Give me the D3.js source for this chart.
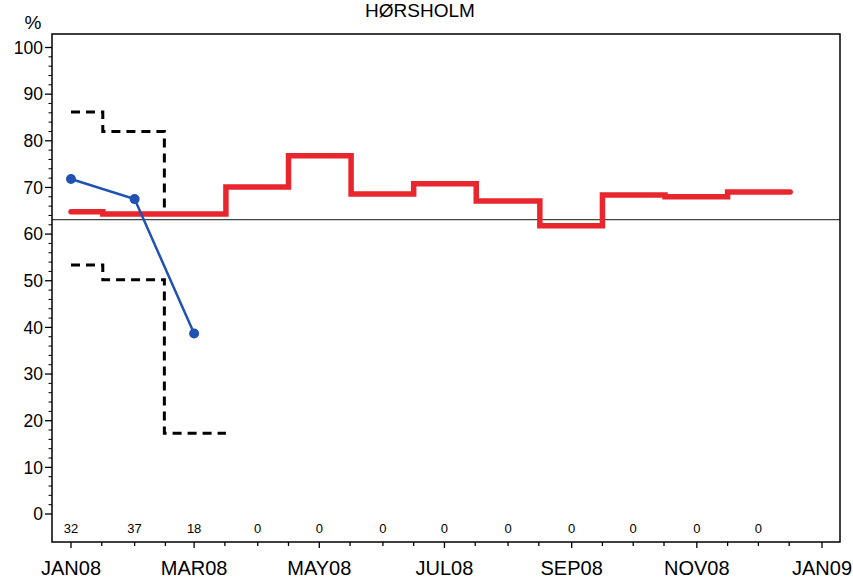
<!DOCTYPE html>
<html>
<head>
<meta charset="utf-8">
<script src="https://cdn.jsdelivr.net/npm/d3@7"></script>
<style>
  body { margin: 0; background: #fff; }
  text { font-family: "Liberation Sans", Arial, sans-serif; fill: #000; }
</style>
</head>
<body>
<svg id="chart" width="853" height="578"></svg>
<script>
// monthly data, 2008
const months = ["2008-01", "2008-02", "2008-03", "2008-04", "2008-05", "2008-06",
    "2008-07", "2008-08", "2008-09", "2008-10", "2008-11", "2008-12"]
const counts = [32, 37, 18, 0, 0, 0, 0, 0, 0, 0, 0, 0]
const expected = [64.8, 64.3, 64.3, 70.1, 76.8, 68.6, 70.8, 67.1, 61.8, 68.4, 68.0, 69.0]
const observed = [71.8, 67.5, 38.7]
const upper = [86.2, 82.0, 64.4]
const lower = [53.4, 50.2, 17.3]
const refLevel = 63.1
const yTicks = [0, 10, 20, 30, 40, 50, 60, 70, 80, 90, 100]
const title = "HØRSHOLM"

const parse = d3.timeParse("%Y-%m")
const dates = months.map(parse)

const svg = d3.select("#chart")

const frame = {left: 52, top: 34, right: 840, bottom: 542}

var x = d3.scaleTime()
    .domain([new Date(2008, 0, 1), new Date(2009, 0, 1)])
    .range([71, 822])
var y = d3.scaleLinear().domain([0, 100]).range([514, 47.5])

// step path: each month holds from the midpoint before to the midpoint after
function stepPoints(values) {
    let pts = []
    for (let i = 0; i < values.length; i++) {
        let d = dates[i]
        let next = d3.timeMonth.offset(d, 1)
        let start = i === 0 ? d : new Date((dates[i - 1].getTime() + d.getTime()) / 2)
        let end = new Date((d.getTime() + next.getTime()) / 2)
        pts.push([x(start), y(values[i])])
        pts.push([x(end), y(values[i])])
    }
    return pts
}

const line = d3.line()

// x axis ticks (1st and 16th of every month)
let allTicks = []
d3.timeMonth.range(new Date(2008, 0, 1), new Date(2009, 0, 2)).forEach(function (m) {
    allTicks.push({d: m, major: m.getMonth() % 2 === 0})
    if (m < new Date(2009, 0, 1)) allTicks.push({d: new Date(m.getFullYear(), m.getMonth(), 16), major: false})
})

svg.append("g").selectAll("line")
    .data(allTicks)
    .enter()
    .append("line")
    .attr("x1", d => x(d.d)).attr("x2", d => x(d.d))
    .attr("y1", frame.bottom).attr("y2", d => frame.bottom + (d.major ? 6 : 4))
    .attr("stroke", "#000").attr("stroke-width", 1.3)

const fmt = d3.timeFormat("%b%y")
svg.append("g").selectAll("text")
    .data(allTicks.filter(d => d.major))
    .enter()
    .append("text")
    .attr("x", d => x(d.d))
    .attr("y", 575)
    .attr("text-anchor", "middle")
    .style("font-size", "20px")
    .text(d => fmt(d.d).toUpperCase())

// y axis
let minor = d3.range(0, 101, 2).filter(v => v % 10 !== 0)
svg.append("g").selectAll("line")
    .data(minor)
    .enter()
    .append("line")
    .attr("x1", frame.left - 3.5).attr("x2", frame.left)
    .attr("y1", d => y(d)).attr("y2", d => y(d))
    .attr("stroke", "#000").attr("stroke-width", 1)

svg.append("g").selectAll("line")
    .data(yTicks)
    .enter()
    .append("line")
    .attr("x1", frame.left - 7).attr("x2", frame.left)
    .attr("y1", d => y(d)).attr("y2", d => y(d))
    .attr("stroke", "#000").attr("stroke-width", 1.3)

svg.append("g").selectAll("text")
    .data(yTicks)
    .enter()
    .append("text")
    .attr("x", 43)
    .attr("y", d => y(d))
    .attr("dy", "0.36em")
    .attr("text-anchor", "end")
    .style("font-size", "17.5px")
    .text(d => d)

svg.append("text").attr("x", 33).attr("y", 29).attr("text-anchor", "middle")
    .style("font-size", "19px").text("%")

svg.append("text").attr("x", 420).attr("y", 17).attr("text-anchor", "middle")
    .style("font-size", "19px").text(title)

// reference level
svg.append("line")
    .attr("x1", frame.left).attr("x2", frame.right)
    .attr("y1", y(refLevel)).attr("y2", y(refLevel))
    .attr("stroke", "#444").attr("stroke-width", 1.2)

// confidence limits
;[upper, lower].forEach(function (vals) {
    svg.append("path")
        .attr("d", line(stepPoints(vals)))
        .attr("fill", "none")
        .attr("stroke", "#000")
        .attr("stroke-width", 3)
        .attr("stroke-dasharray", "9,6")
})

// expected level
svg.append("path")
    .attr("d", line(stepPoints(expected)))
    .attr("fill", "none")
    .attr("stroke", "#e8262d")
    .attr("stroke-width", 5.5)
    .attr("stroke-linecap", "round")

// observed
let obs = observed.map((v, i) => ({d: dates[i], v: v}))
svg.append("path")
    .attr("d", d3.line().x(d => x(d.d)).y(d => y(d.v))(obs))
    .attr("fill", "none")
    .attr("stroke", "#2152b3")
    .attr("stroke-width", 2.5)

svg.append("g").selectAll("circle")
    .data(obs)
    .enter()
    .append("circle")
    .attr("cx", d => x(d.d))
    .attr("cy", d => y(d.v))
    .attr("r", 5)
    .style("fill", "#2152b3")

// counts
svg.append("g").selectAll("text")
    .data(counts)
    .enter()
    .append("text")
    .attr("x", (d, i) => x(dates[i]))
    .attr("y", 533)
    .attr("text-anchor", "middle")
    .style("font-size", "13px")
    .text(d => d)

// frame
svg.append("rect")
    .attr("x", frame.left).attr("y", frame.top)
    .attr("width", frame.right - frame.left).attr("height", frame.bottom - frame.top)
    .attr("fill", "none").attr("stroke", "#000").attr("stroke-width", 1.5)
</script>
</body>
</html>
